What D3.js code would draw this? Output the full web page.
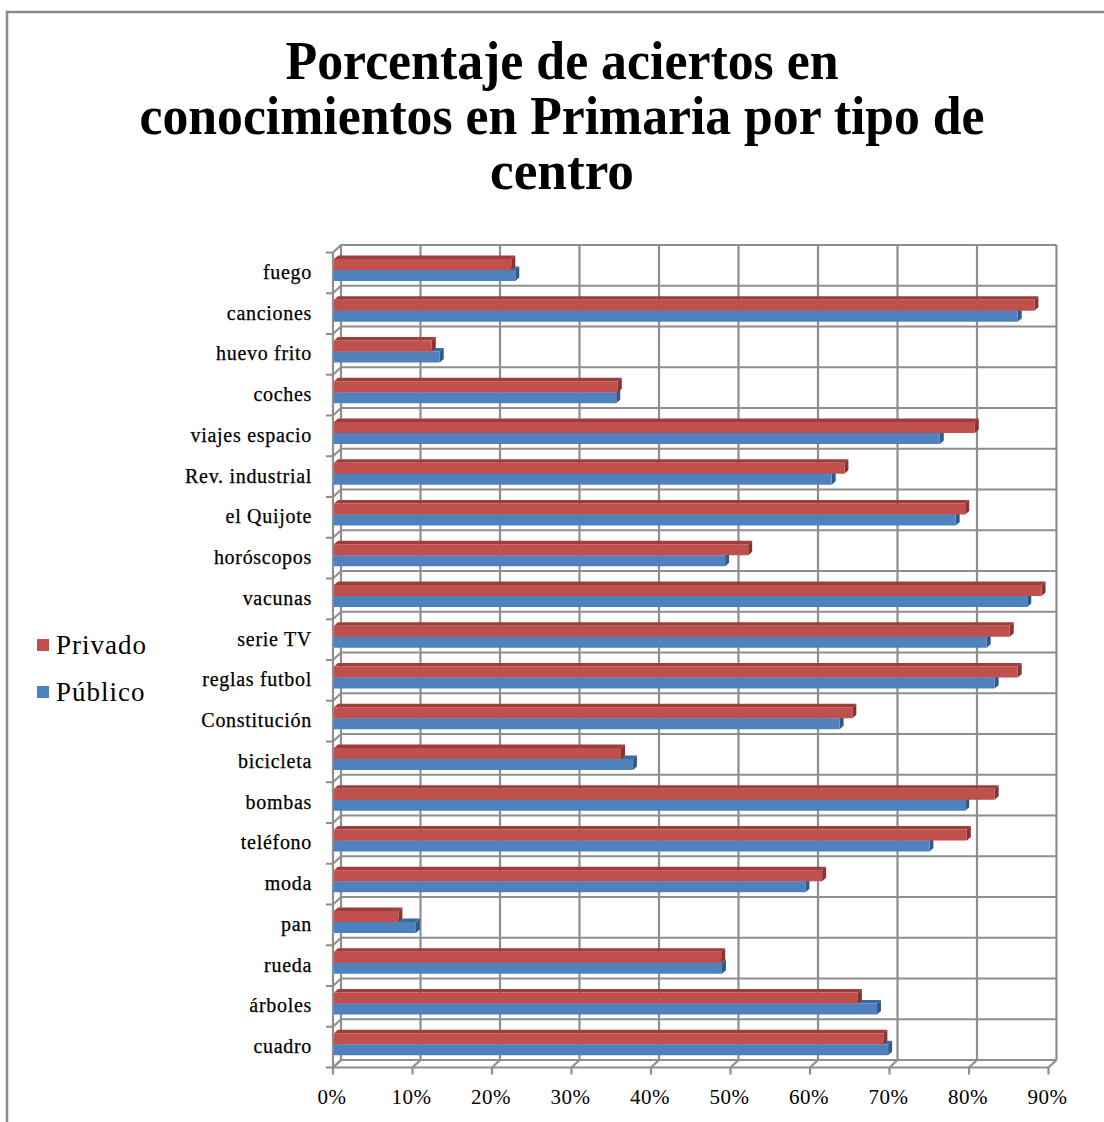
<!DOCTYPE html>
<html>
<head>
<meta charset="utf-8">
<script src="https://cdn.jsdelivr.net/npm/d3@7"></script>
<style>
  body { margin: 0; background: #fff; }
  svg { display: block; }
</style>
</head>
<body>
<div id="chart"></div>
<script>
// categories top to bottom
const categories = ["fuego", "canciones", "huevo frito", "coches", "viajes espacio",
    "Rev. industrial", "el Quijote", "horóscopos", "vacunas", "serie TV", "reglas futbol",
    "Constitución", "bicicleta", "bombas", "teléfono", "moda", "pan", "rueda", "árboles", "cuadro"];

const privado = [22.3, 88.1, 12.3, 35.7, 80.6, 64.2, 79.4, 52.1, 89.0, 85.0, 86.0,
    65.2, 36.1, 83.1, 79.6, 61.4, 8.1, 48.7, 65.9, 69.1];
const publico = [22.8, 86.0, 13.3, 35.5, 76.2, 62.6, 78.2, 49.2, 87.2, 82.1, 83.1,
    63.6, 37.6, 79.4, 74.9, 59.3, 10.3, 48.8, 68.3, 69.7];

const tickValues = [0, 10, 20, 30, 40, 50, 60, 70, 80, 90];
const titleLines = ["Porcentaje de aciertos en", "conocimientos en Primaria por tipo de", "centro"];

const W = 1104, H = 1122;
const DX = 8, DY = -7.5; // depth of the 3d walls

const svg = d3.select("#chart").append("svg")
    .attr("width", W)
    .attr("height", H);

// outer chart border
svg.append("path")
    .attr("d", "M7,1122 L7,12 L1104,12")
    .attr("fill", "none")
    .attr("stroke", "#8a8a8a")
    .attr("stroke-width", 2.5);

// title
const titleWidths = [553, 845, 144];
const titleY = [79, 134, 189];
svg.selectAll(".title")
    .data(titleLines)
    .enter()
    .append("text")
    .attr("x", 562)
    .attr("y", (d, i) => titleY[i])
    .attr("text-anchor", "middle")
    .attr("textLength", (d, i) => titleWidths[i])
    .attr("lengthAdjust", "spacingAndGlyphs")
    .style("font-family", "'Liberation Serif', serif")
    .style("font-weight", "bold")
    .style("font-size", "54px")
    .text(d => d);

// scales (front plane)
const x = d3.scaleLinear().domain([0, 90]).range([333, 1048.5]);
const y = d3.scaleBand().domain(categories).range([252.5, 1067.5]);
const yBottom = 1067.5, yTop = 252.5;

const grid = svg.append("g")
    .attr("fill", "none")
    .attr("stroke", "#8e8e8e")
    .attr("stroke-width", 2.2);

// vertical gridlines on the back wall + floor diagonals
tickValues.forEach(v => {
    grid.append("line")
        .attr("x1", x(v) + DX).attr("x2", x(v) + DX)
        .attr("y1", yTop + DY).attr("y2", yBottom + DY);
    grid.append("line")
        .attr("x1", x(v)).attr("x2", x(v) + DX)
        .attr("y1", yBottom).attr("y2", yBottom + DY);
    // tick
    grid.append("line")
        .attr("x1", x(v)).attr("x2", x(v))
        .attr("y1", yBottom).attr("y2", yBottom + 7);
});

// horizontal gridlines (category boundaries)
const bounds = categories.map(c => y(c)).concat([yBottom]);
bounds.forEach(b => {
    grid.append("path")
        .attr("d", `M${x(0) - 7},${b} L${x(0)},${b} L${x(0) + DX},${b + DY} L${x(90) + DX},${b + DY}`);
});

// floor front edge and left wall edges
grid.append("line")
    .attr("x1", x(0)).attr("x2", x(90))
    .attr("y1", yBottom).attr("y2", yBottom);
grid.append("line")
    .attr("x1", x(0)).attr("x2", x(0))
    .attr("y1", yTop).attr("y2", yBottom);

// category labels
svg.selectAll(".catLabel")
    .data(categories)
    .enter()
    .append("text")
    .attr("x", 312)
    .attr("y", d => y(d) + y.bandwidth() / 2 + 6)
    .attr("text-anchor", "end")
    .style("font-family", "'Liberation Serif', serif")
    .style("font-size", "20px")
    .style("letter-spacing", "0.7px")
    .style("stroke", "#000")
    .style("stroke-width", "0.25px")
    .text(d => d);

// value axis labels
svg.selectAll(".tickLabel")
    .data(tickValues)
    .enter()
    .append("text")
    .attr("x", d => x(d) - 1)
    .attr("y", 1104)
    .attr("text-anchor", "middle")
    .style("font-family", "'Liberation Serif', serif")
    .style("font-size", "21px")
    .style("letter-spacing", "0.5px")
    .text(d => d + "%");

// 3d bars
const BD = 4, BDY = -3.5, barH = 11;
const series = [
    { name: "Privado", values: privado, off: 6.5, front: "#C0504D", top: "#9E3D3A", side: "#8A3230" },
    { name: "Público", values: publico, off: 17.5, front: "#4F81BD", top: "#3C6A9F", side: "#2F5A8C" }
];
const barX0 = x(0) + 1;

// draw blue first so the red front face sits over its top face
series.slice().reverse().forEach(s => {
    const g = svg.append("g");
    categories.forEach((c, i) => {
        const x1 = x(s.values[i]) + 1;
        const y0 = y(c) + s.off;
        // top face
        g.append("path")
            .attr("d", `M${barX0},${y0} L${barX0 + BD},${y0 + BDY} L${x1 + BD},${y0 + BDY} L${x1},${y0} Z`)
            .attr("fill", s.top);
        // end cap
        g.append("path")
            .attr("d", `M${x1},${y0} L${x1 + BD},${y0 + BDY} L${x1 + BD},${y0 + barH + BDY} L${x1},${y0 + barH} Z`)
            .attr("fill", s.side);
        // front face
        g.append("rect")
            .attr("x", barX0)
            .attr("y", y0)
            .attr("width", x1 - barX0)
            .attr("height", barH)
            .attr("fill", s.front);
    });
});

// legend
const legend = svg.append("g");
series.forEach((s, i) => {
    legend.append("rect")
        .attr("x", 37)
        .attr("y", 639 + i * 47)
        .attr("width", 12)
        .attr("height", 12)
        .attr("fill", s.front);
    legend.append("text")
        .attr("x", 56)
        .attr("y", 654 + i * 47)
        .style("font-family", "'Liberation Serif', serif")
        .style("font-size", "27px")
        .style("letter-spacing", "1px")
        .text(s.name);
});
</script>
</body>
</html>
